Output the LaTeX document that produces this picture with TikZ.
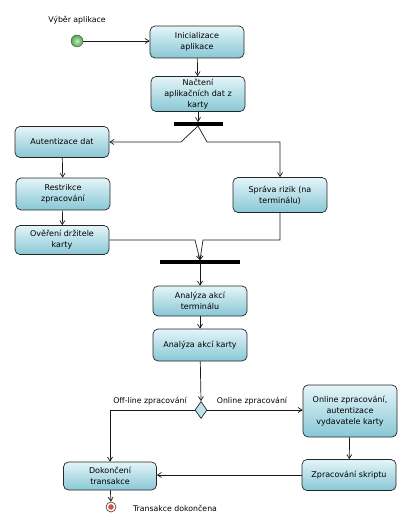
\documentclass[tikz,border=0pt]{standalone}
\usepackage{fontspec}
\setmainfont{DejaVu Sans}
\usetikzlibrary{arrows.meta,shapes.geometric}

\definecolor{boxtop}{HTML}{E4F5F9}
\definecolor{boxbottom}{HTML}{88C7D5}
\definecolor{startgreen}{HTML}{5CC456}
\definecolor{endred}{HTML}{E0503A}

\tikzset{
	activity/.style={draw=black!85, line width=0.7pt, rounded corners=5pt, top color=boxtop,
		bottom color=boxbottom, minimum width=94pt, align=center,
		font=\fontsize{8}{11}\selectfont, inner sep=1pt},
	syncbar/.style={fill=black, inner sep=0pt, minimum height=3.5pt},
	textlabel/.style={font=\fontsize{7.8}{9}\selectfont, inner sep=1pt},
}

\begin{document}
\begin{tikzpicture}
	[x=1pt, y=-1pt, >={Straight Barb[length=4pt,width=5pt]}]

	\useasboundingbox (0,0) rectangle (411,526);

	% start and end
	\begin{scope}
		\node[circle, draw=black!70, shading=radial, inner color=startgreen!35!white,
			outer color=startgreen!85!black, minimum size=12pt, inner sep=0pt] (start) at (77,41) {};
		\node[textlabel] (startlabel) at (77,20) {Výběr aplikace};

		\node[circle, draw=black!70, line width=0.7pt, fill=white, minimum size=10pt, inner sep=0pt] (stop) at (111,507) {};
		\fill[endred] (stop) circle (2.8pt);
		\node[textlabel] (stoplabel) at (175,508) {Transakce dokončena};
	\end{scope}

	% activities
	\begin{scope}
		\node[activity, minimum height=32pt] (init)    at (197,42)  {Inicializace\\aplikace};
		\node[activity, minimum height=35pt] (load)    at (198,94)  {Načtení\\aplikačních dat z\\karty};
		\node[activity, minimum height=31pt] (auth)    at (62,142)  {Autentizace dat};
		\node[activity, minimum height=32pt] (restr)   at (63,194)  {Restrikce\\zpracování};
		\node[activity, minimum height=29pt] (verify)  at (62,240)  {Ověření držitele\\karty};
		\node[activity, minimum height=35pt] (risk)    at (280,195) {Správa rizik (na\\terminálu)};
		\node[activity, minimum height=30pt] (termact) at (200,301) {Analýza akcí\\terminálu};
		\node[activity, minimum height=32pt] (cardact) at (200,345) {Analýza akcí karty};
		\node[activity, minimum height=52pt] (online)  at (350,411) {Online zpracování,\\autentizace\\vydavatele karty};
		\node[activity, minimum height=31pt] (script)  at (349,475) {Zpracování skriptu};
		\node[activity, minimum height=28pt, minimum width=93pt] (finish) at (110,476) {Dokončení\\transakce};
	\end{scope}

	% fork, join and decision
	\begin{scope}
		\node[syncbar, minimum width=49pt] (fork) at (198,124) {};
		\node[syncbar, minimum width=80pt] (join) at (200,262) {};
		\node[diamond, draw=black!85, line width=0.7pt, fill=boxtop!60!boxbottom, inner sep=0pt,
			minimum width=12pt, minimum height=17pt, aspect=0.7] (decide) at (201,410) {};
	\end{scope}

	% connectors
	\begin{scope}[->, black!90, line width=0.7pt]
		\draw (start.east) -- (start -| init.west);
		\draw (init) -- (load);
		\draw (load) -- (fork);

		\draw (fork.south) -- ([xshift=-17pt]fork.south |- auth.east) -- (auth.east);
		\draw (fork.south) -- ([xshift=9pt]fork.south |- auth.east) -- (risk.north |- auth.east) -- (risk.north);

		\draw (auth) -- (restr);
		\draw (restr) -- (verify);

		\draw (verify.east) -- ([xshift=-5pt]join.north |- verify.east) -- (join.north);
		\draw (risk.south) -- (risk.south |- verify.east) -- ([xshift=3pt]join.north |- verify.east) -- (join.north);

		\draw (join) -- (termact);
		\draw (termact) -- (cardact);
		\draw (cardact) -- (decide.north);

		\draw (decide.east) -- (decide.east -| online.west);
		\draw (decide.west) -- (decide.west -| finish.north) -- (finish.north);
		\draw (online) -- (script);
		\draw (script.west) -- (script.west -| finish.east);
		\draw (finish) -- (stop);
	\end{scope}

	% guard labels
	\node[textlabel] (offline) at (150,401) {Off-line zpracování};
	\node[textlabel] (onlinelabel) at (252,401) {Online zpracování};

\end{tikzpicture}
\end{document}
